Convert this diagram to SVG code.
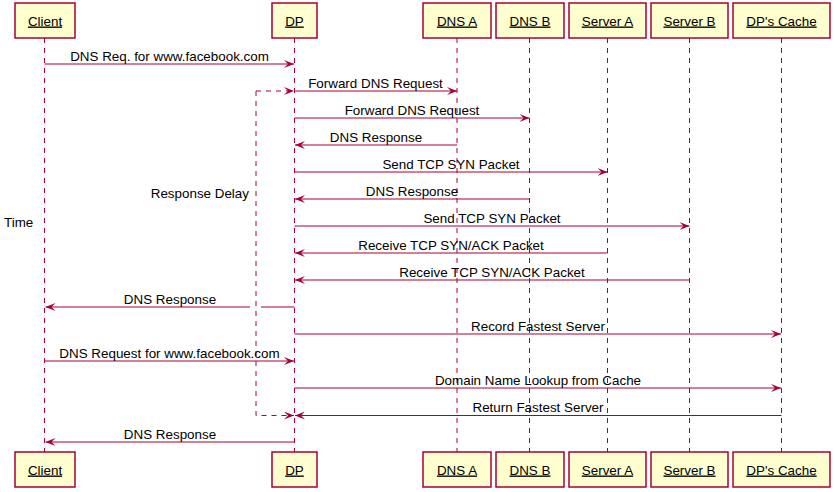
<svg xmlns="http://www.w3.org/2000/svg" width="834" height="492" viewBox="0 0 834 492">
<style>
text{font-family:"Liberation Sans",Arial,sans-serif;font-size:13.4px;fill:#000}
.box{fill:#FEFECE;stroke:#A80036;stroke-width:1.5}
.bt{text-anchor:middle;text-decoration:underline}
.life{stroke:#A80036;stroke-width:1;stroke-dasharray:5,5;fill:none}
.msg{stroke:#A80036;stroke-width:1;fill:none}
.dash{stroke:#A80036;stroke-width:1;fill:none;stroke-dasharray:5,5}
.ml{text-anchor:middle}
</style>
<defs>
<marker id="ah" markerUnits="userSpaceOnUse" markerWidth="10" markerHeight="8" viewBox="0 0 10 8" refX="10" refY="4" orient="auto">
<path d="M0,0 L10,4 L0,8 L4,4 Z" fill="#A80036" stroke="none"/>
</marker>
</defs>
<rect width="834" height="492" fill="#FFFFFF"/>
<g id="lifelines">
<line class="life" x1="44.5" y1="38" x2="44.5" y2="452"/>
<line class="life" x1="294.5" y1="38" x2="294.5" y2="452"/>
<line class="life" x1="457" y1="38" x2="457" y2="452"/>
<line class="life" x1="529.5" y1="38" x2="529.5" y2="452"/>
<line class="life" x1="607.5" y1="38" x2="607.5" y2="452"/>
<line class="life" x1="689.5" y1="38" x2="689.5" y2="452"/>
<line class="life" x1="781.5" y1="38" x2="781.5" y2="452"/>
</g>
<g id="client">
<rect class="box" x="15" y="3" width="60" height="35"/>
<text class="bt" x="45" y="25.5">Client</text>
<rect class="box" x="15" y="452" width="60" height="35"/>
<text class="bt" x="45" y="474.5">Client</text>
</g>
<g id="dp">
<rect class="box" x="272" y="3" width="45" height="35"/>
<text class="bt" x="294.5" y="25.5">DP</text>
<rect class="box" x="272" y="452" width="45" height="35"/>
<text class="bt" x="294.5" y="474.5">DP</text>
</g>
<g id="dnsa">
<rect class="box" x="423" y="3" width="68" height="35"/>
<text class="bt" x="457" y="25.5">DNS A</text>
<rect class="box" x="423" y="452" width="68" height="35"/>
<text class="bt" x="457" y="474.5">DNS A</text>
</g>
<g id="dnsb">
<rect class="box" x="496" y="3" width="68" height="35"/>
<text class="bt" x="530" y="25.5">DNS B</text>
<rect class="box" x="496" y="452" width="68" height="35"/>
<text class="bt" x="530" y="474.5">DNS B</text>
</g>
<g id="servera">
<rect class="box" x="569" y="3" width="77" height="35"/>
<text class="bt" x="607.5" y="25.5">Server A</text>
<rect class="box" x="569" y="452" width="77" height="35"/>
<text class="bt" x="607.5" y="474.5">Server A</text>
</g>
<g id="serverb">
<rect class="box" x="651" y="3" width="77" height="35"/>
<text class="bt" x="689.5" y="25.5">Server B</text>
<rect class="box" x="651" y="452" width="77" height="35"/>
<text class="bt" x="689.5" y="474.5">Server B</text>
</g>
<g id="cache">
<rect class="box" x="733" y="3" width="97" height="35"/>
<text class="bt" x="781.5" y="25.5">DP's Cache</text>
<rect class="box" x="733" y="452" width="97" height="35"/>
<text class="bt" x="781.5" y="474.5">DP's Cache</text>
</g>
<g id="connectors">
<path class="dash" d="M256,91 H294" marker-end="url(#ah)"/>
<path class="dash" d="M256,91 V415.5 H294" marker-end="url(#ah)"/>
<path class="msg" d="M44.5,64 H294" marker-end="url(#ah)"/>
<path class="msg" d="M294.5,91 H457" marker-end="url(#ah)"/>
<path class="msg" d="M294.5,118 H529.5" marker-end="url(#ah)"/>
<path class="msg" d="M457,145 H295" marker-end="url(#ah)"/>
<path class="msg" d="M294.5,172 H607.5" marker-end="url(#ah)"/>
<path class="msg" d="M529.5,199 H295" marker-end="url(#ah)"/>
<path class="msg" d="M294.5,226 H689.5" marker-end="url(#ah)"/>
<path class="msg" d="M607.5,253 H295" marker-end="url(#ah)"/>
<path class="msg" d="M689.5,280 H295" marker-end="url(#ah)"/>
<path class="msg" d="M294.5,307 H261"/>
<path class="msg" d="M250,307 H45.5" marker-end="url(#ah)"/>
<path class="msg" d="M294.5,334 H781" marker-end="url(#ah)"/>
<path class="msg" d="M44.5,361 H294" marker-end="url(#ah)"/>
<path class="msg" d="M294.5,388 H781" marker-end="url(#ah)"/>
<path class="msg" d="M781.5,415.5 H295" marker-end="url(#ah)"/>
<path class="msg" d="M294.5,442 H45.5" marker-end="url(#ah)"/>
</g>
<g id="labels">
<text class="ml" x="169.5" y="60.5">DNS Req. for www.facebook.com</text>
<text class="ml" x="375.5" y="87.5">Forward DNS Request</text>
<text class="ml" x="412" y="114.5">Forward DNS Request</text>
<text class="ml" x="376" y="141.5">DNS Response</text>
<text class="ml" x="451" y="168.5">Send TCP SYN Packet</text>
<text class="ml" x="412" y="195.5">DNS Response</text>
<text class="ml" x="492" y="222.5">Send TCP SYN Packet</text>
<text class="ml" x="451" y="249.5">Receive TCP SYN/ACK Packet</text>
<text class="ml" x="492" y="276.5">Receive TCP SYN/ACK Packet</text>
<text class="ml" x="170" y="303.5">DNS Response</text>
<text class="ml" x="538" y="330.5">Record Fastest Server</text>
<text class="ml" x="169.5" y="357.5">DNS Request for www.facebook.com</text>
<text class="ml" x="538" y="384.5">Domain Name Lookup from Cache</text>
<text class="ml" x="538" y="411.5">Return Fastest Server</text>
<text class="ml" x="170" y="438.5">DNS Response</text>
<text x="249" y="198" text-anchor="end">Response Delay</text>
<text x="4" y="227">Time</text>
</g>
</svg>
